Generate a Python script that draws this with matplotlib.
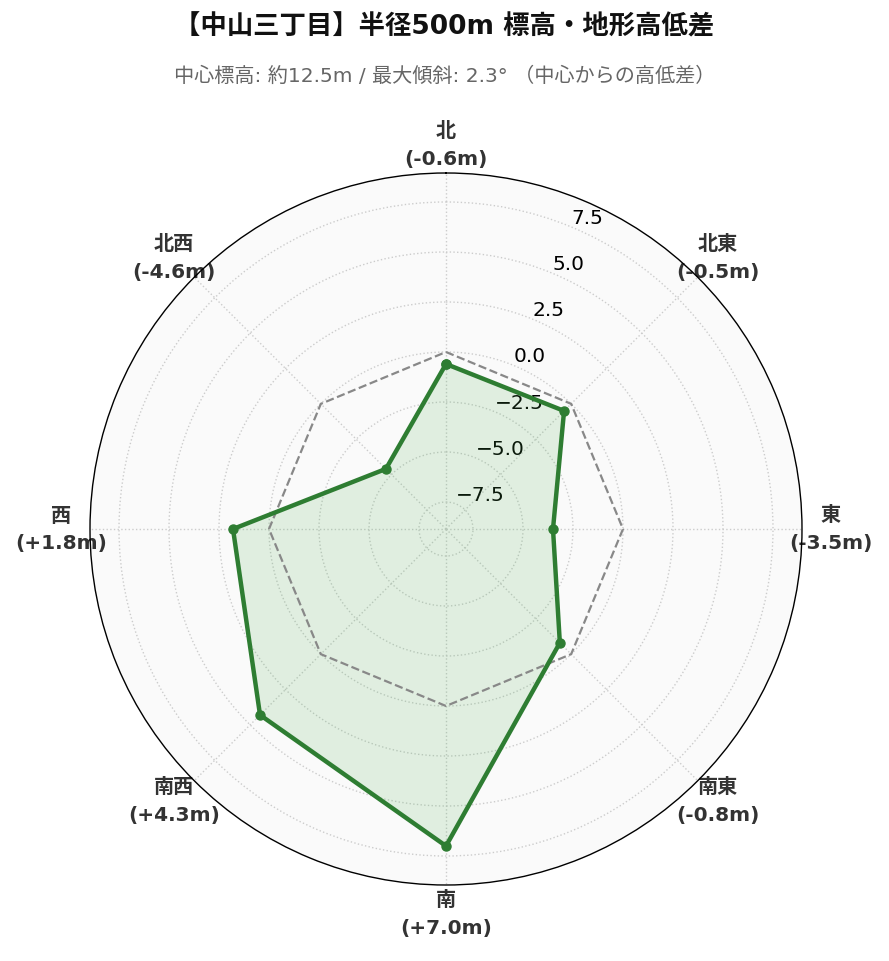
import numpy as np
import matplotlib
matplotlib.use("Agg")
import matplotlib.pyplot as plt

plt.rcParams['font.family'] = ['DejaVu Sans', 'Noto Sans CJK JP']

directions = ["北", "北東", "東", "南東", "南", "南西", "西", "北西"]
diffs = [-0.6, -0.5, -3.5, -0.8, 7.0, 4.3, 1.8, -4.6]
baseline = [0, 0, 0, 0, 0, 0, 0, 0]
r_ticks = [-7.5, -5.0, -2.5, 0.0, 2.5, 5.0, 7.5]
title = "【中山三丁目】半径500m 標高・地形高低差"
subtitle = "中心標高: 約12.5m / 最大傾斜: 2.3° （中心からの高低差）"

n = len(directions)
angles = np.linspace(0, 2 * np.pi, n, endpoint=False)
ang_c = np.concatenate([angles, angles[:1]])
vals_c = np.concatenate([diffs, diffs[:1]])
base_c = np.concatenate([baseline, baseline[:1]])

fig = plt.figure(figsize=(8.89, 9.62), dpi=100)
ax = fig.add_axes([90 / 889, 76 / 962, 712 / 889, 712 / 962], projection='polar')
ax.set_theta_zero_location('N')
ax.set_theta_direction(-1)
ax.set_facecolor('#fafafa')

ax.plot(ang_c, base_c, color='#888888', lw=1.6, ls='--', zorder=3)
ax.fill(ang_c, vals_c, color='#4caf50', alpha=0.15, zorder=2)
ax.plot(ang_c, vals_c, color='#2e7d32', lw=3.2, marker='o', ms=6.5, zorder=4)

ax.set_ylim(-8.85, 8.95)
ax.set_yticks(r_ticks)
ax.tick_params(axis='y', labelsize=14.5)

labels = [f"{d}\n({v:+.1f}m)" for d, v in zip(directions, diffs)]
ax.set_xticks(angles)
ax.set_xticklabels(labels, fontsize=14.5, fontweight='bold', color='#333333',
                   linespacing=1.6)
ax.tick_params(axis='x', pad=10)

ax.grid(True, color='#cccccc', ls=':', lw=1.0)
ax.spines['polar'].set_color('black')
ax.spines['polar'].set_linewidth(1.0)

fig.text(0.5, 1 - 27 / 962, title, ha='center', va='center', fontsize=19, fontweight='bold', color='#111111')
fig.text(0.5, 1 - 76 / 962, subtitle, ha='center', va='center', fontsize=14.5, color='#666666')

fig.savefig('out.png', dpi=100, facecolor='white')
